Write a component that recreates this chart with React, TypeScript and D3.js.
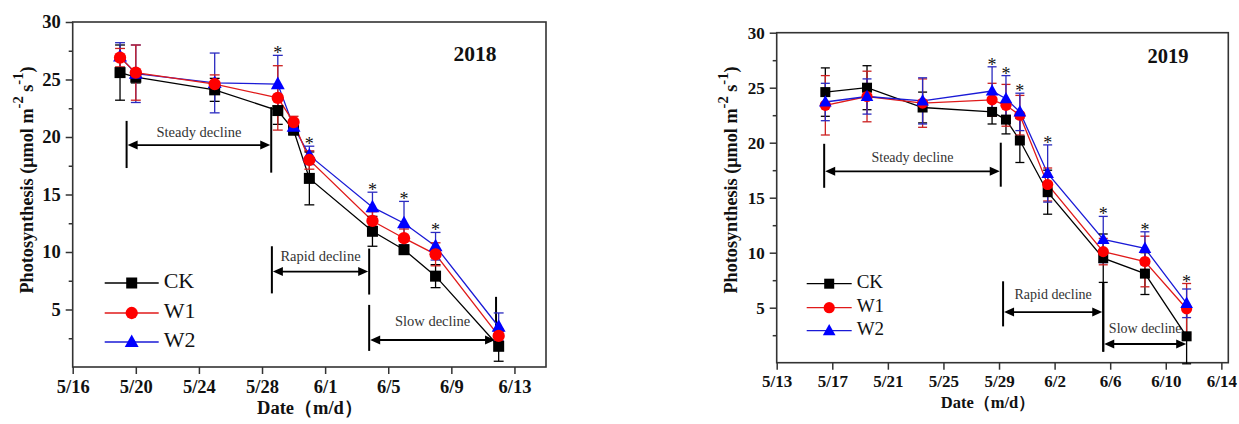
import { useEffect, useRef } from 'react'
import * as d3 from 'd3'

const parse = d3.utcParse('%Y-%m-%d %H:%M')

// ---- 2018 ----
const dates2018 = ['2018-05-19 00:00', '2018-05-20 00:00', '2018-05-25 00:00', '2018-05-29 00:00', '2018-05-30 00:00', '2018-05-31 00:00', '2018-06-04 00:00', '2018-06-06 00:00', '2018-06-08 00:00', '2018-06-12 00:00']
const ck2018 = [25.6, 25.2, 24.1, 22.3, 20.6, 16.4, 11.8, 10.2, 7.9, 1.8]
const ckSd2018 = [2.4, 0.5, 1.0, 1.2, 0.4, 2.3, 1.3, 0.4, 1.0, 1.3]
const w1_2018 = [26.9, 25.6, 24.6, 23.4, 21.3, 18.0, 12.7, 11.2, 9.8, 2.7]
const w1Sd2018 = [0.8, 2.4, 0.8, 2.8, 0.5, 0.8, 0.8, 0.8, 1.0, 0.6]
const w2_2018 = [27.0, 25.5, 24.7, 24.6, 20.9, 18.4, 13.9, 12.5, 10.5, 3.5]
const w2Sd2018 = [1.2, 2.5, 2.6, 2.5, 0.5, 0.8, 1.3, 1.9, 1.2, 1.2]
const stars2018 = [3, 5, 6, 7, 8]
const ticks2018 = ['2018-05-16 00:00', '2018-05-20 00:00', '2018-05-24 00:00', '2018-05-28 00:00', '2018-06-01 00:00', '2018-06-05 00:00', '2018-06-09 00:00', '2018-06-13 00:00']

// ---- 2019 ----
const dates2019 = ['2019-05-16 12:00', '2019-05-19 12:00', '2019-05-23 12:00', '2019-05-28 12:00', '2019-05-29 12:00', '2019-05-30 12:00', '2019-06-01 12:00', '2019-06-05 12:00', '2019-06-08 12:00', '2019-06-11 12:00']
const ck2019 = [24.6, 25.0, 23.2, 22.8, 22.1, 20.2, 15.5, 9.5, 8.1, 2.4]
const ckSd2019 = [2.2, 2.0, 1.4, 1.1, 1.3, 2.0, 2.0, 2.2, 1.9, 2.5]
const w1_2019 = [23.4, 24.2, 23.6, 23.9, 23.4, 22.5, 16.2, 10.1, 9.2, 4.9]
const w1Sd2019 = [2.7, 2.3, 2.2, 1.5, 1.9, 1.8, 1.5, 1.2, 2.3, 2.3]
const w2_2019 = [23.7, 24.2, 23.8, 24.7, 24.0, 22.8, 17.2, 11.2, 10.4, 5.4]
const w2Sd2019 = [1.7, 1.6, 2.1, 2.2, 2.1, 1.7, 2.6, 2.1, 1.5, 1.3]
const stars2019 = [3, 4, 5, 6, 7, 8, 9]
const ticks2019 = ['2019-05-13 00:00', '2019-05-17 00:00', '2019-05-21 00:00', '2019-05-25 00:00', '2019-05-29 00:00', '2019-06-02 00:00', '2019-06-06 00:00', '2019-06-10 00:00', '2019-06-14 00:00']

// ---- phase annotations ----
const phases = ['Steady decline', 'Rapid decline', 'Slow decline']
const phaseStart2018 = ['2018-05-19 10:00', '2018-05-28 15:00', '2018-06-03 19:00']
const phaseEnd2018 = ['2018-05-28 14:00', '2018-06-03 19:00', '2018-06-11 20:00']
const phaseArrowY2018 = [19.3, 8.3, 2.35]
const phaseLabelY2018 = [20.3, 9.5, 3.85]
const phaseStartLine2018 = [[21.4, 17.3], [10.5, 6.4], [5.4, 1.4]]
const phaseEndLine2018 = [[22.6, 16.9], [10.3, 6.3], [6.1, 1.8]]

const phaseStart2019 = ['2019-05-16 10:00', '2019-05-29 07:00', '2019-06-05 12:00']
const phaseEnd2019 = ['2019-05-29 03:00', '2019-06-05 12:00', '2019-06-11 13:00']
const phaseArrowY2019 = [17.4, 4.6, 1.7]
const phaseLabelY2019 = [18.5, 6.1, 3.0]
const phaseStartLine2019 = [[19.9, 15.9], [7.4, 3.3], [7.3, 1.0]]
const phaseEndLine2019 = [[20.0, 16.0], [7.3, 1.0], null]

const seriesNames = ['CK', 'W1', 'W2']
const lineColors = ['#000000', '#e01a1a', '#1a1ad6']
const markColors = ['#000000', '#ff0000', '#0000ff']
const barColors = ['#000000', '#cc1f1f', '#2a2ac0']

const serif = '"Times New Roman", "Liberation Serif", serif'

const panels = [
  {
    year: '2018',
    dates: dates2018,
    values: [ck2018, w1_2018, w2_2018],
    sds: [ckSd2018, w1Sd2018, w2Sd2018],
    stars: stars2018,
    ticks: ticks2018,
    domain: ['2018-05-16 00:00', '2018-06-15 00:00'],
    phaseStart: phaseStart2018, phaseEnd: phaseEnd2018,
    arrowY: phaseArrowY2018, labelY: phaseLabelY2018,
    startLine: phaseStartLine2018, endLine: phaseEndLine2018,
    drawOrder: [0, 2, 1],
    box: { left: 72.7, right: 546, top: 22, bottom: 367 },
    tickFont: 18.5, yTitleFont: 18.2, xTitleFont: 18.5, legendFont: 22, yearFont: 21.5, phaseFont: 14.5,
    mark: 1.1, legendX: 32, legendRows: [-84, -54, -25], legendLen: 54,
    yTitleX: 28.5, yTitleY: 180, xTitleX: 310, xTitleY: 410, yearX: 475, yearY: 56, xPad: 6,
  },
  {
    year: '2019',
    dates: dates2019,
    values: [ck2019, w1_2019, w2_2019],
    sds: [ckSd2019, w1Sd2019, w2Sd2019],
    stars: stars2019,
    ticks: ticks2019,
    domain: ['2019-05-13 00:00', '2019-06-14 12:00'],
    phaseStart: phaseStart2019, phaseEnd: phaseEnd2019,
    arrowY: phaseArrowY2019, labelY: phaseLabelY2019,
    startLine: phaseStartLine2019, endLine: phaseEndLine2019,
    drawOrder: [0, 1, 2],
    box: { left: 776.7, right: 1228.3, top: 32.7, bottom: 362.7 },
    tickFont: 17, yTitleFont: 18.2, xTitleFont: 16.5, legendFont: 19, yearFont: 20.5, phaseFont: 14,
    mark: 1.0, legendX: 30, legendRows: [-79, -55, -32], legendLen: 45,
    yTitleX: 733, yTitleY: 180, xTitleX: 988, xTitleY: 404, yearX: 1168, yearY: 58, xPad: 5,
  },
]

const drawMarker = (g, kind, cx, cy, s, color) => {
  if (kind === 0) {
    g.append('rect').attr('x', cx - 5 * s).attr('y', cy - 5 * s)
      .attr('width', 10 * s).attr('height', 10 * s).attr('fill', color)
  } else if (kind === 1) {
    g.append('circle').attr('cx', cx).attr('cy', cy).attr('r', 5.6 * s).attr('fill', color)
  } else {
    const h = 11 * s
    g.append('path')
      .attr('d', `M${cx},${cy - h * 0.62}L${cx + 6.3 * s},${cy + h * 0.42}L${cx - 6.3 * s},${cy + h * 0.42}Z`)
      .attr('fill', color)
  }
}

const drawPanel = (svg, p) => {
  const { left, right, top, bottom } = p.box
  const x = d3.scaleUtc().domain(p.domain.map(parse)).range([left, right])
  const y = d3.scaleLinear().domain([0, 30]).range([bottom, top])
  const dates = p.dates.map(parse)
  const g = svg.append('g')

  // frame
  g.append('rect')
    .attr('x', left).attr('y', top)
    .attr('width', right - left).attr('height', bottom - top)
    .attr('fill', 'none').attr('stroke', '#333').attr('stroke-width', 1.6)

  // y axis (major + minor ticks)
  const yAxis = g.append('g').attr('transform', `translate(${left},0)`)
    .call(d3.axisLeft(y).tickValues([5, 10, 15, 20, 25, 30]).tickSize(7).tickSizeOuter(0).tickPadding(5))
  const yMinor = g.append('g').attr('transform', `translate(${left},0)`)
    .call(d3.axisLeft(y).tickValues([2.5, 7.5, 12.5, 17.5, 22.5, 27.5]).tickSize(4).tickSizeOuter(0).tickFormat(() => ''))

  const xAxis = g.append('g').attr('transform', `translate(0,${bottom})`)
    .call(d3.axisBottom(x).tickValues(p.ticks.map(parse)).tickFormat(d3.utcFormat('%-m/%-d'))
      .tickSize(7).tickSizeOuter(0).tickPadding(p.xPad))

  ;[yAxis, yMinor, xAxis].forEach(a => {
    a.select('.domain').remove()
    a.selectAll('line').attr('stroke', '#333').attr('stroke-width', 1.5)
    a.selectAll('text')
      .attr('font-family', serif).attr('font-weight', 'bold')
      .attr('font-size', p.tickFont).attr('fill', '#111')
  })

  // axis titles
  const f = p.yTitleFont
  const yt = g.append('text')
    .attr('transform', `translate(${p.yTitleX},${p.yTitleY}) rotate(-90)`)
    .attr('text-anchor', 'middle').attr('dominant-baseline', 'middle')
    .attr('font-family', serif).attr('font-weight', 'bold').attr('font-size', f).attr('fill', '#111')
  yt.append('tspan').text('Photosynthesis (μmol m')
  yt.append('tspan').attr('dy', -f * 0.45).attr('font-size', f * 0.8).text('-2')
  yt.append('tspan').attr('dy', f * 0.45).text(' s')
  yt.append('tspan').attr('dy', -f * 0.45).attr('font-size', f * 0.8).text('-1')
  yt.append('tspan').attr('dy', f * 0.45).text(')')

  g.append('text')
    .attr('x', p.xTitleX).attr('y', p.xTitleY)
    .attr('text-anchor', 'middle').attr('dominant-baseline', 'middle')
    .attr('font-family', serif).attr('font-weight', 'bold').attr('font-size', p.xTitleFont).attr('fill', '#111')
    .text('Date（m/d）')

  g.append('text')
    .attr('x', p.yearX).attr('y', p.yearY)
    .attr('text-anchor', 'middle').attr('dominant-baseline', 'middle')
    .attr('font-family', serif).attr('font-weight', 'bold').attr('font-size', p.yearFont).attr('fill', '#111')
    .text(p.year)

  // phase annotations
  phases.forEach((label, i) => {
    const x0 = x(parse(p.phaseStart[i]))
    const x1 = x(parse(p.phaseEnd[i]))
    const ay = y(p.arrowY[i])
    const a = g.append('g')
    const lines = [[x0, p.startLine[i]], [x1, p.endLine[i]]]
    lines.forEach(([lx, ext]) => {
      if (!ext) return
      a.append('line').attr('x1', lx).attr('x2', lx).attr('y1', y(ext[0])).attr('y2', y(ext[1]))
        .attr('stroke', '#000').attr('stroke-width', 2)
    })
    a.append('line').attr('x1', x0 + 6).attr('x2', x1 - 6).attr('y1', ay).attr('y2', ay)
      .attr('stroke', '#000').attr('stroke-width', 1.8)
    a.append('path').attr('d', `M${x0 + 1},${ay}L${x0 + 11},${ay - 4.5}L${x0 + 11},${ay + 4.5}Z`).attr('fill', '#000')
    a.append('path').attr('d', `M${x1 - 1},${ay}L${x1 - 11},${ay - 4.5}L${x1 - 11},${ay + 4.5}Z`).attr('fill', '#000')
    a.append('text')
      .attr('x', (x0 + x1) / 2).attr('y', y(p.labelY[i]))
      .attr('text-anchor', 'middle').attr('dominant-baseline', 'middle')
      .attr('font-family', serif).attr('font-size', p.phaseFont).attr('fill', '#333')
      .text(label)
  })

  const line = d3.line().x(d => x(d[0])).y(d => y(d[1]))

  // lines
  p.drawOrder.forEach(s => {
    g.append('path')
      .datum(dates.map((d, i) => [d, p.values[s][i]]))
      .attr('fill', 'none').attr('stroke', lineColors[s]).attr('stroke-width', 1.3)
      .attr('d', line)
  })

  // error bars
  const cap = 4.5 * p.mark
  p.drawOrder.forEach(s => {
    dates.forEach((d, i) => {
      const cx = x(d)
      const hi = y(p.values[s][i] + p.sds[s][i])
      const lo = y(p.values[s][i] - p.sds[s][i])
      const eb = g.append('g').attr('stroke', barColors[s]).attr('stroke-width', 1.3)
      eb.append('line').attr('x1', cx).attr('x2', cx).attr('y1', hi).attr('y2', lo)
      eb.append('line').attr('x1', cx - cap).attr('x2', cx + cap).attr('y1', hi).attr('y2', hi)
      eb.append('line').attr('x1', cx - cap).attr('x2', cx + cap).attr('y1', lo).attr('y2', lo)
    })
  })

  // markers
  p.drawOrder.forEach(s => {
    dates.forEach((d, i) => drawMarker(g, s, x(d), y(p.values[s][i]), p.mark, markColors[s]))
  })

  // significance stars
  p.stars.forEach(i => {
    const topVal = d3.max([0, 1, 2], s => p.values[s][i] + p.sds[s][i])
    g.append('text')
      .attr('x', x(dates[i])).attr('y', y(topVal) + 4)
      .attr('text-anchor', 'middle')
      .attr('font-family', serif).attr('font-size', 18).attr('fill', '#111')
      .text('*')
  })

  // legend
  seriesNames.forEach((name, s) => {
    const ly = bottom + p.legendRows[s]
    const lx = left + p.legendX
    g.append('line').attr('x1', lx).attr('x2', lx + p.legendLen).attr('y1', ly).attr('y2', ly)
      .attr('stroke', lineColors[s]).attr('stroke-width', 1.3)
    drawMarker(g, s, lx + p.legendLen / 2, ly, p.mark, markColors[s])
    g.append('text')
      .attr('x', lx + p.legendLen + 5).attr('y', ly)
      .attr('dominant-baseline', 'middle')
      .attr('font-family', serif).attr('font-size', p.legendFont).attr('fill', '#111')
      .text(name)
  })
}

const App = () => {
  const svgRef = useRef(null)

  useEffect(() => {
    const svg = d3.select(svgRef.current)
    svg.selectAll('*').remove()
    panels.forEach(p => drawPanel(svg, p))
  }, [])

  return (
    <svg ref={svgRef} width={1239} height={424}
      style={{ position: 'absolute', left: 0, top: 0, background: '#fff' }} />
  )
}

export default App
